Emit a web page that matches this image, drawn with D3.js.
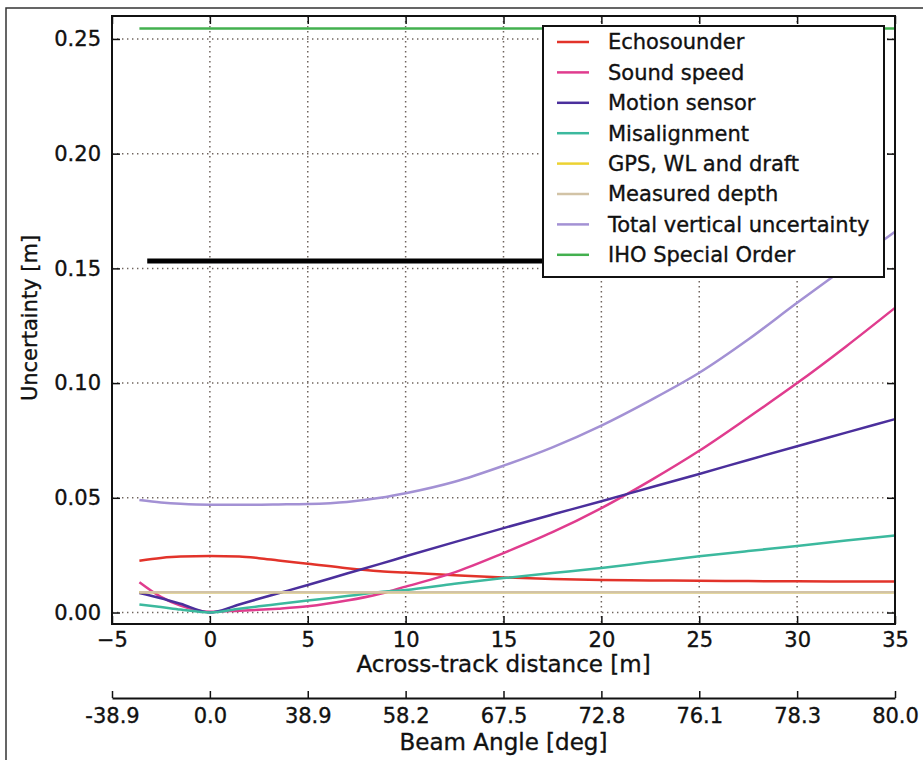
<!DOCTYPE html>
<html>
<head>
<meta charset="utf-8">
<script src="https://cdn.jsdelivr.net/npm/d3@7"></script>
<style>
  body { margin: 0; background: #fff; }
  text { font-family: "DejaVu Sans", sans-serif; fill: #111; stroke: #111; stroke-width: 0.35px; }
</style>
</head>
<body>
<div id="chart"></div>
<script>
// across-track distance [m]
const distances = [-3.6, -2.5, -1.5, 0, 1.5, 2.5, 3.5, 5, 7, 8.7, 10, 12.5, 15, 17.5, 20, 22.5, 25, 27.5, 30, 32.5, 35]

const echosounder = [0.0226, 0.0238, 0.0244, 0.0246, 0.0244, 0.0237, 0.0227, 0.0213, 0.0193, 0.0180, 0.0174, 0.0163, 0.0153, 0.0146, 0.0142, 0.0140, 0.0138, 0.0137, 0.0136, 0.0135, 0.0135]
const soundSpeed = [0.0132, 0.0068, 0.0030, 0.0003, 0.0008, 0.0012, 0.0017, 0.0027, 0.0052, 0.0082, 0.0113, 0.0175, 0.0259, 0.0350, 0.0455, 0.0575, 0.0705, 0.0850, 0.1000, 0.1160, 0.1328]
const motionSensor = [0.0085, 0.0062, 0.0038, 0.0000, 0.0035, 0.0060, 0.0084, 0.0120, 0.0170, 0.0212, 0.0245, 0.0307, 0.0368, 0.0427, 0.0485, 0.0545, 0.0604, 0.0665, 0.0725, 0.0784, 0.0843]
const misalignment = [0.0035, 0.0024, 0.0013, 0.0000, 0.0016, 0.0027, 0.0037, 0.0052, 0.0072, 0.0089, 0.0098, 0.0125, 0.0150, 0.0172, 0.0194, 0.0220, 0.0245, 0.0268, 0.0290, 0.0314, 0.0336]
const gpsWlDraft = distances.map(() => 0.0088)
const measuredDepth = distances.map(() => 0.0088)
const totalVertical = [0.0490, 0.0480, 0.0474, 0.0470, 0.0470, 0.0470, 0.0471, 0.0473, 0.0482, 0.0500, 0.0520, 0.0570, 0.0640, 0.0720, 0.0815, 0.0925, 0.1045, 0.1190, 0.1350, 0.1505, 0.1660]
const ihoSpecial = distances.map(() => 0.2545)

// thick black reference line (not in legend)
const blackLineX = [-3.2, 33]
const blackLineY = [0.1532, 0.1532]

const xTicks = [-5, 0, 5, 10, 15, 20, 25, 30, 35]
const yTicks = [0.00, 0.05, 0.10, 0.15, 0.20, 0.25]
const beamAngleLabels = ["-38.9", "0.0", "38.9", "58.2", "67.5", "72.8", "76.1", "78.3", "80.0"]

const series = [
  { name: "Echosounder", values: echosounder, color: "#e2332a" },
  { name: "Sound speed", values: soundSpeed, color: "#e03c8e" },
  { name: "Motion sensor", values: motionSensor, color: "#4b2f9c" },
  { name: "Misalignment", values: misalignment, color: "#3cb99e" },
  { name: "GPS, WL and draft", values: gpsWlDraft, color: "#ecd232" },
  { name: "Measured depth", values: measuredDepth, color: "#d2c3a6" },
  { name: "Total vertical uncertainty", values: totalVertical, color: "#a391d4" },
  { name: "IHO Special Order", values: ihoSpecial, color: "#43b04f" }
]

const W = 923, H = 760
const margin = { left: 112, top: 16, right: 923 - 895, bottom: 760 - 624 }
const innerW = W - margin.left - margin.right
const innerH = H - margin.top - margin.bottom

const svg = d3.select("#chart").append("svg")
  .attr("width", W)
  .attr("height", H)

svg.append("rect").attr("width", W).attr("height", H).attr("fill", "#fff")
// outer picture frame
svg.append("rect")
  .attr("x", 6).attr("y", 8)
  .attr("width", 1200).attr("height", 1200)
  .attr("fill", "none").attr("stroke", "#333").attr("stroke-width", 1.5)

const g = svg.append("g").attr("transform", "translate(" + margin.left + "," + margin.top + ")")

const x = d3.scaleLinear().domain([-5, 35]).range([0, innerW])
const y = d3.scaleLinear().domain([-0.005, 0.26]).range([innerH, 0])

// grid
const grid = g.append("g").attr("class", "grid")
grid.selectAll("line.vx").data(xTicks.slice(1, -1)).join("line")
  .attr("x1", d => x(d)).attr("x2", d => x(d))
  .attr("y1", 0).attr("y2", innerH)
grid.selectAll("line.hy").data(yTicks).join("line")
  .attr("x1", 0).attr("x2", innerW)
  .attr("y1", d => y(d)).attr("y2", d => y(d))
grid.selectAll("line")
  .attr("stroke", "#6f645e").attr("stroke-width", 1.5)
  .attr("stroke-dasharray", "1.4,3.6")

// curves
const line = d3.line()
  .x((d, i) => x(distances[i]))
  .y(d => y(d))
  .curve(d3.curveMonotoneX)

g.selectAll("path.series").data(series).join("path")
  .attr("class", "series")
  .attr("fill", "none")
  .attr("stroke", d => d.color)
  .attr("stroke-width", 2.5)
  .attr("d", d => line(d.values))

g.append("path")
  .attr("fill", "none")
  .attr("stroke", "#000")
  .attr("stroke-width", 5)
  .attr("d", d3.line().x(d => x(d[0])).y(d => y(d[1]))(blackLineX.map((v, i) => [v, blackLineY[i]])))

// axes, ticks inside like classic matplotlib
const bottomAxis = d3.axisBottom(x).tickValues(xTicks).tickFormat(d3.format("")).tickSizeInner(-8).tickSizeOuter(0).tickPadding(8)
const topAxis = d3.axisTop(x).tickValues(xTicks).tickFormat("").tickSizeInner(-8).tickSizeOuter(0)
const leftAxis = d3.axisLeft(y).tickValues(yTicks).tickFormat(d3.format(".2f")).tickSizeInner(-8).tickSizeOuter(0).tickPadding(11)
const rightAxis = d3.axisRight(y).tickValues(yTicks).tickFormat("").tickSizeInner(-8).tickSizeOuter(0)

g.append("g").attr("transform", "translate(0," + innerH + ")").call(bottomAxis)
g.append("g").call(topAxis)
g.append("g").call(leftAxis)
g.append("g").attr("transform", "translate(" + innerW + ",0)").call(rightAxis)

g.selectAll(".domain").remove()
g.selectAll(".tick line").attr("stroke", "#111").attr("stroke-width", 1.5)
g.selectAll(".tick text").attr("font-size", 21).attr("fill", "#111")

// frame
g.append("rect")
  .attr("width", innerW).attr("height", innerH)
  .attr("fill", "none").attr("stroke", "#111").attr("stroke-width", 2)

// legend
const legend = g.append("g").attr("transform", "translate(" + (543 - margin.left) + "," + (26 - margin.top) + ")")
legend.append("rect")
  .attr("width", 341).attr("height", 251)
  .attr("fill", "#fff").attr("stroke", "#111").attr("stroke-width", 2)
const rows = legend.selectAll("g.row").data(series).join("g")
  .attr("transform", (d, i) => "translate(0," + (16 + i * 30.4) + ")")
rows.append("line")
  .attr("x1", 14).attr("x2", 46)
  .attr("stroke", d => d.color).attr("stroke-width", 2.5)
rows.append("text")
  .attr("x", 65).attr("dy", "0.35em")
  .attr("font-size", 21)
  .text(d => d.name)

// axis labels
g.append("text")
  .attr("x", innerW / 2).attr("y", 672 - margin.top)
  .attr("text-anchor", "middle").attr("font-size", 23)
  .text("Across-track distance [m]")

svg.append("text")
  .attr("transform", "translate(37,318) rotate(-90)")
  .attr("text-anchor", "middle").attr("font-size", 21)
  .text("Uncertainty [m]")

// beam angle secondary axis
const beamAxis = d3.axisBottom(x).tickValues(xTicks)
  .tickFormat((d, i) => beamAngleLabels[i])
  .tickSizeInner(-7).tickSizeOuter(0).tickPadding(10)
const gb = svg.append("g").attr("transform", "translate(" + margin.left + ",698)").call(beamAxis)
gb.select(".domain").attr("stroke", "#111").attr("stroke-width", 2)
gb.selectAll(".tick line").attr("stroke", "#111").attr("stroke-width", 1.5)
gb.selectAll(".tick text").attr("font-size", 21).attr("fill", "#111")

svg.append("text")
  .attr("x", margin.left + innerW / 2).attr("y", 750)
  .attr("text-anchor", "middle").attr("font-size", 23)
  .text("Beam Angle [deg]")
</script>
</body>
</html>
